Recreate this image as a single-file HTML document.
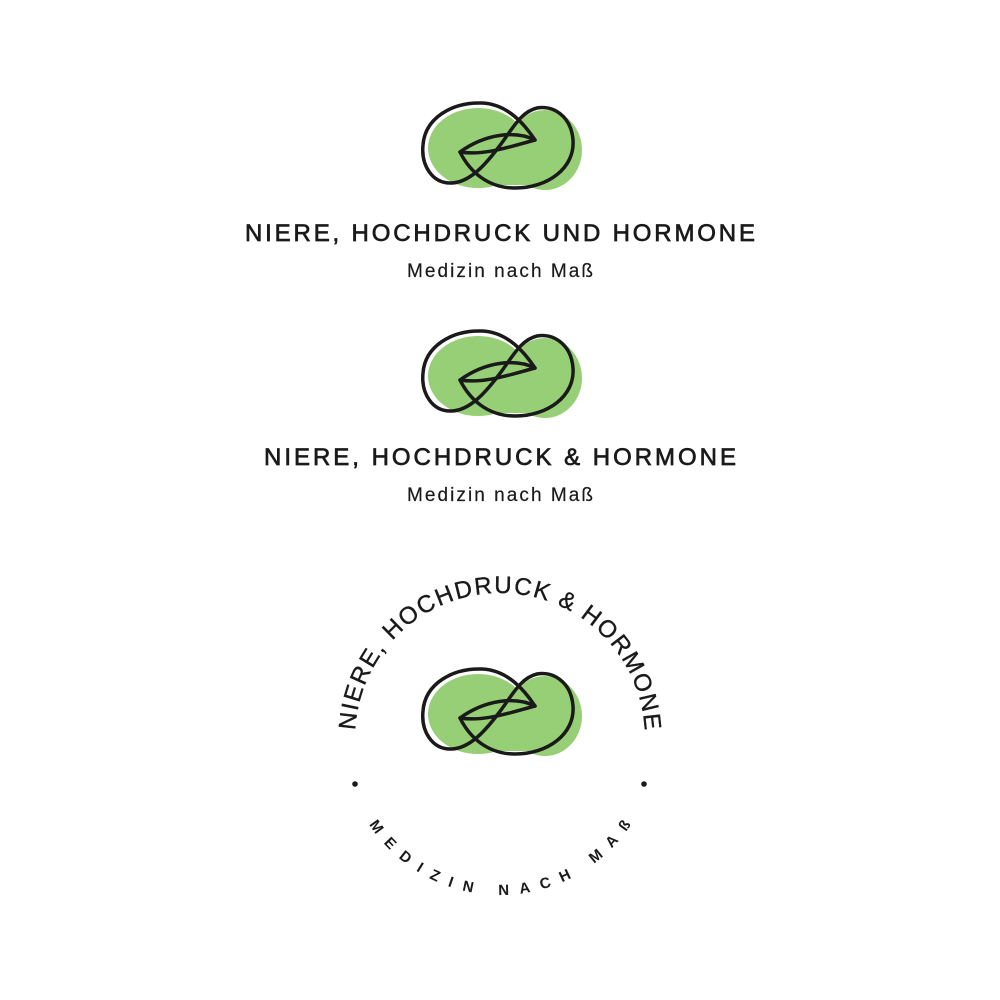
<!DOCTYPE html>
<html><head><meta charset="utf-8"><style>
html,body{margin:0;padding:0;background:#fff}
svg{display:block}
</style></head><body>
<svg width="1000" height="1000" viewBox="0 0 1000 1000" xmlns="http://www.w3.org/2000/svg">
<defs>
<g id="logo">
<ellipse cx="478" cy="148" rx="50" ry="40" fill="#97cf77"/>
<ellipse cx="545" cy="150" rx="37" ry="40" fill="#97cf77"/>
<rect x="490" y="130" width="40" height="55" fill="#97cf77"/>
<g fill="none" stroke="#1a1a1a" stroke-width="3.5" stroke-linejoin="round" stroke-linecap="round">
<path d="M460,152 C470,172 488,188 515,188 C548,188 575,168 573,140 C571,115 552,105 537,108 C520,112 512,130 498,148 C485,165 470,182 452,183 C432,184 421,165 423,145 C425,118 452,102 482,103 C508,104 525,125 535,140 C515,130 485,134 460,152 Z"/>
<path d="M460,152 C485,156 512,146 535,140"/>
</g>
</g>
<path id="arcTop" d="M355,738 A145,145 0 0 1 645,738"/>
<path id="arcBot" d="M343,738 A157,157 0 0 0 657,738"/>
</defs>
<use href="#logo"/>
<use href="#logo" transform="translate(0,228)"/>
<use href="#logo" transform="translate(0,566)"/>
<g font-family="Liberation Sans, sans-serif" fill="#1a1a1a" stroke="#1a1a1a" text-anchor="middle">
<text x="500" y="241" font-size="24" stroke-width="0.7" textLength="510">NIERE, HOCHDRUCK UND HORMONE</text>
<text x="500" y="277" font-size="19" stroke-width="0.2" textLength="186">Medizin nach Maß</text>
<text x="500" y="465" font-size="24" stroke-width="0.7" textLength="472">NIERE, HOCHDRUCK &amp; HORMONE</text>
<text x="500" y="501" font-size="19" stroke-width="0.2" textLength="186">Medizin nach Maß</text>
<text font-size="24" stroke-width="0.4"><textPath href="#arcTop" startOffset="50%" textLength="440">NIERE, HOCHDRUCK &amp; HORMONE</textPath></text>
<text font-size="15" font-weight="bold" stroke-width="0"><textPath href="#arcBot" startOffset="50%" textLength="310">MEDIZIN NACH MAß</textPath></text>
<circle cx="355" cy="784" r="2.8" stroke-width="0"/>
<circle cx="644" cy="784" r="2.8" stroke-width="0"/>
</g>
</svg>
</body></html>
